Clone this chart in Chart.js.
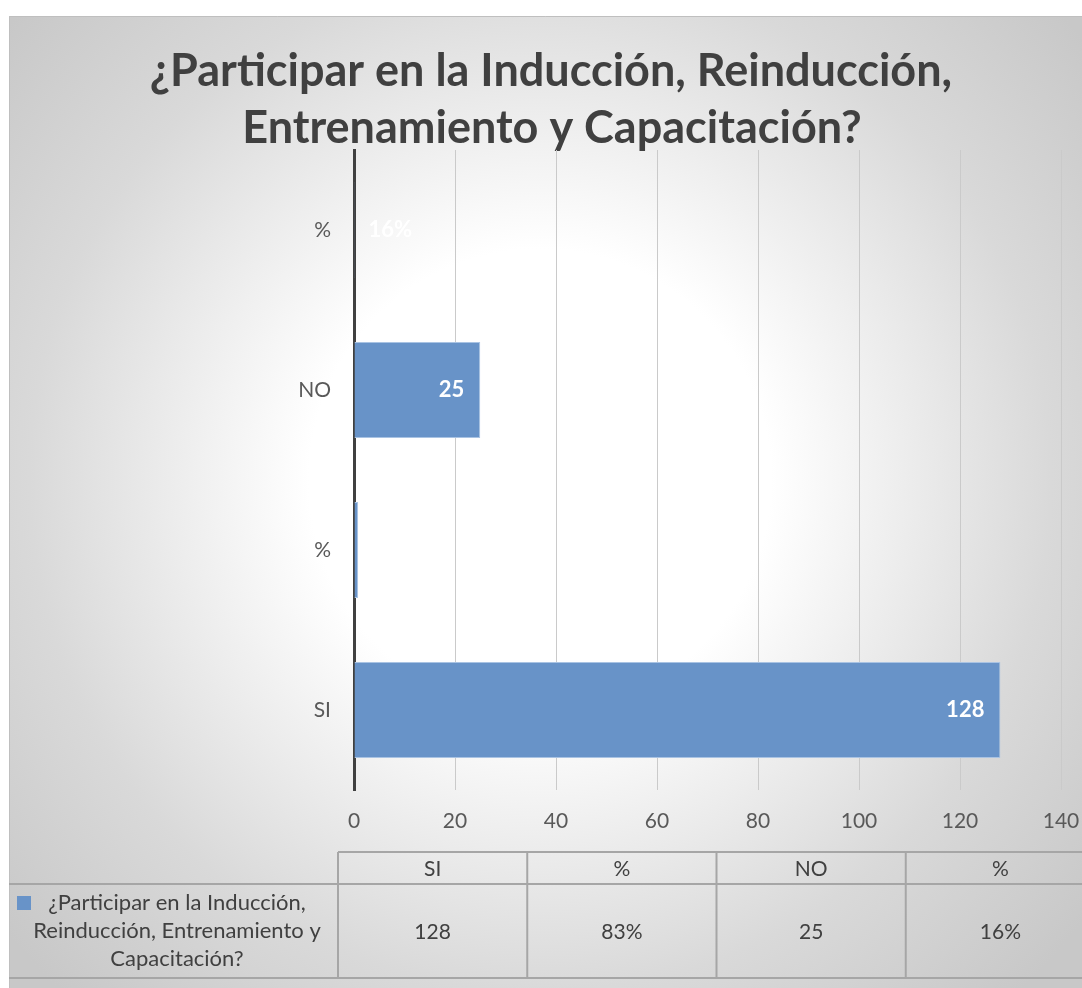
<!DOCTYPE html>
<html>
<head>
<meta charset="utf-8">
<script src="https://cdn.jsdelivr.net/npm/chart.js@4"></script>
<style>
html,body{margin:0;padding:0;background:#fff;}
canvas{display:block;}
</style>
</head>
<body>
<canvas id="c" width="1082" height="988"></canvas>
<script>
// Data (table order)
const categories = ['SI', '%', 'NO', '%'];
const values = [128, 0.83, 25, 0.16];
const tableValues = ['128', '83%', '25', '16%'];
const barLabels = ['128', '', '25', '16%'];
const seriesName = '¿Participar en la Inducción, Reinducción, Entrenamiento y Capacitación?';
const seriesNameLines = ['¿Participar en la Inducción,', 'Reinducción, Entrenamiento y', 'Capacitación?'];
const titleLines = ['¿Participar en la Inducción, Reinducción,', 'Entrenamiento y Capacitación?'];
const xTicks = [0, 20, 40, 60, 80, 100, 120, 140];

// chart draws categories bottom-up
const chartLabels = categories.slice().reverse();
const chartValues = values.slice().reverse();
const chartBarLabels = barLabels.slice().reverse();

const FONT = 'Lato, "Open Sans", sans-serif';
const BAR = '#6893c8';

const bgPlugin = {
  id: 'bg',
  beforeDraw(chart) {
    const ctx = chart.ctx;
    ctx.save();
    ctx.fillStyle = '#ffffff';
    ctx.fillRect(0, 0, chart.width, chart.height);
    const g = ctx.createRadialGradient(540, 480, 0, 540, 480, 700);
    g.addColorStop(0, '#ffffff');
    g.addColorStop(0.33, '#ffffff');
    g.addColorStop(0.73, '#d9d9d9');
    g.addColorStop(1, '#c8c8c8');
    ctx.fillStyle = g;
    ctx.fillRect(9, 16, chart.width - 9, chart.height - 16);
    ctx.strokeStyle = '#bfbfbf';
    ctx.lineWidth = 1;
    ctx.beginPath();
    ctx.moveTo(9.5, chart.height);
    ctx.lineTo(9.5, 16.5);
    ctx.lineTo(chart.width, 16.5);
    ctx.stroke();
    // title
    ctx.fillStyle = '#404040';
    ctx.font = 'bold 45px ' + FONT;
    ctx.textAlign = 'center';
    ctx.textBaseline = 'middle';
    ctx.fillText(titleLines[0], 551, 71);
    ctx.fillText(titleLines[1], 552, 128);
    ctx.restore();
  }
};

const labelPlugin = {
  id: 'barlabels',
  afterDraw(chart) {
    const ctx = chart.ctx;
    const meta = chart.getDatasetMeta(0);
    const xs = chart.scales.x;
    ctx.save();
    ctx.fillStyle = '#ffffff';
    ctx.font = 'bold 22px ' + FONT;
    ctx.textBaseline = 'middle';
    meta.data.forEach((bar, i) => {
      const t = chartBarLabels[i];
      if (!t) return;
      const endX = Math.max(bar.x, xs.getPixelForValue(0) + 74);
      ctx.textAlign = 'right';
      ctx.fillText(t, endX - 16, bar.y);
    });
    ctx.restore();
  }
};

const tablePlugin = {
  id: 'datatable',
  afterDraw(chart) {
    const ctx = chart.ctx;
    const left = 9, labelRight = 338, colW = 189.25;
    const top = 852, mid = 884, bottom = 978;
    ctx.save();
    ctx.strokeStyle = '#a6a6a6';
    ctx.lineWidth = 2;
    ctx.beginPath();
    ctx.moveTo(labelRight, top); ctx.lineTo(chart.width, top);
    ctx.moveTo(left, mid); ctx.lineTo(chart.width, mid);
    ctx.moveTo(left, bottom); ctx.lineTo(chart.width, bottom);
    for (let i = 0; i < categories.length; i++) {
      const x = labelRight + i * colW;
      ctx.moveTo(x, top); ctx.lineTo(x, bottom);
    }
    ctx.stroke();
    ctx.fillStyle = '#404040';
    ctx.font = '21px ' + FONT;
    ctx.textAlign = 'center';
    ctx.textBaseline = 'middle';
    categories.forEach((c, i) => {
      const cx = labelRight + (i + 0.5) * colW;
      ctx.fillText(c, cx, (top + mid) / 2 + 1);
      ctx.fillText(tableValues[i], cx, (mid + bottom) / 2 + 1);
    });
    // legend key + series name
    ctx.fillStyle = BAR;
    ctx.fillRect(17, 896, 14, 14);
    ctx.fillStyle = '#404040';
    ctx.font = '22px ' + FONT;
    seriesNameLines.forEach((l, i) => {
      ctx.fillText(l, 177, 903 + i * 28);
    });
    ctx.restore();
  }
};

new Chart(document.getElementById('c'), {
  type: 'bar',
  data: {
    labels: chartLabels,
    datasets: [{
      label: seriesName,
      data: chartValues,
      backgroundColor: BAR,
      borderColor: '#a9c3e3',
      borderWidth: 1,
      categoryPercentage: 0.6,
      barPercentage: 1
    }]
  },
  options: {
    indexAxis: 'y',
    responsive: false,
    animation: false,
    layout: { padding: { left: 0, top: 150, right: 21, bottom: 0 } },
    plugins: { legend: { display: false }, tooltip: { enabled: false }, title: { display: false } },
    scales: {
      x: {
        min: 0, max: 140,
        z: 1,
        afterBuildTicks(scale) { scale.ticks = xTicks.map(v => ({ value: v })); },
        afterFit(scale) { scale.height = 198; scale.paddingRight = 0; scale.paddingLeft = 0; },
        grid: { color: '#cacaca', lineWidth: 1, drawTicks: false },
        border: { display: false },
        ticks: { color: '#595959', font: { family: FONT, size: 21 }, padding: 19, maxRotation: 0 }
      },
      y: {
        afterFit(scale) { scale.width = 354; },
        grid: { display: false },
        border: { display: true, color: '#404040', width: 3 },
        ticks: { color: '#595959', font: { family: FONT, size: 21 }, padding: 15 }
      }
    }
  },
  plugins: [bgPlugin, labelPlugin, tablePlugin]
});
</script>
</body>
</html>
